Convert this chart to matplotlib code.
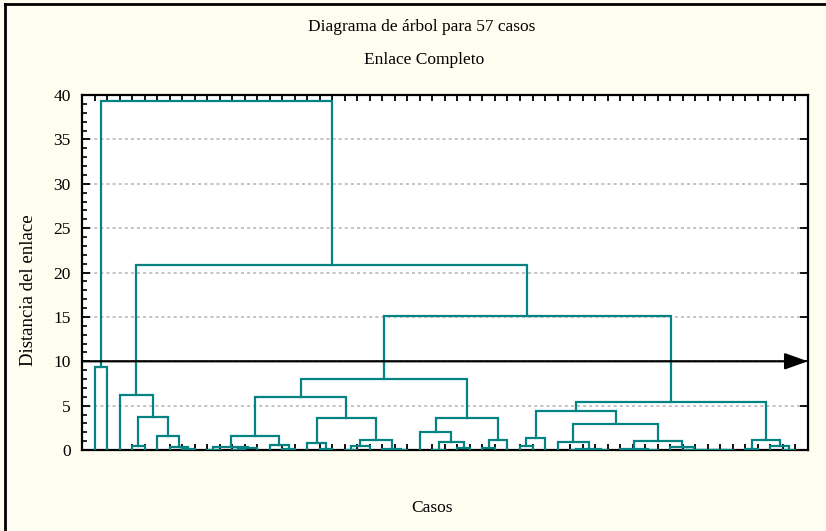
import matplotlib
matplotlib.use("Agg")
import matplotlib.pyplot as plt
from matplotlib.lines import Line2D
from matplotlib.ticker import MultipleLocator

plt.rcParams['font.family'] = ['Liberation Serif', 'DejaVu Serif']

title_1 = "Diagrama de árbol para 57 casos"
title_2 = "Enlace Completo"
y_label = "Distancia del enlace"
x_label = "Casos"
n_cases = 57
cut_height = 10.0

# merges of the tree: leaves are case numbers 1..57 (in drawing order),
# internal nodes are referred to by name
node_names = ["a1", "b1", "b2", "b3", "b4", "b5", "b6",
              "c1", "c2", "c3", "c4", "c5", "c6", "c7", "c8", "c9", "c10",
              "c11", "c12", "c13", "c14", "c15", "c16",
              "d1", "d2", "d3", "d4", "d5", "d6", "d7", "d8",
              "e1", "e2", "e3", "e4", "e5", "e6", "e7", "e8", "e9", "e10",
              "e11", "e12", "e13", "e14", "e15", "e16", "e17",
              "f1", "f2", "f3", "f4", "f5", "g1", "g2", "g3"]
left_child = [1, 8, 7, 6, 4, "b4", 3,
              10, 12, "c2", "c1", 16, 15, "c4", 19, 18, 21,
              "c10", 25, 24, "c11", "c9", "c7",
              28, 30, "d1", 27, 32, "d5", "d4", "c16",
              35, "e1", 39, 41, "e3", 38, 44, "e7", 43, 51,
              50, 49, 48, 47, "e9", "e6", "e2",
              53, 56, 55, "f1", "e17", "d8", "b6", "a1"]
right_child = [2, 9, "b1", "b2", 5, "b3", "b5",
               11, 13, 14, "c3", 17, "c5", "c6", 20, "c8", 22,
               23, 26, "c12", "c13", "c14", "c15",
               29, 31, "d2", "d3", 33, 34, "d6", "d7",
               36, 37, 40, 42, "e4", "e5", 45, 46, "e8", 52,
               "e10", "e11", "e12", "e13", "e14", "e15", "e16",
               54, 57, "f2", "f3", "f4", "f5", "g1", "g2"]
link_height = [9.35, 0.08, 0.35, 1.58, 0.45, 3.7, 6.2,
               0.05, 0.05, 0.19, 0.37, 0.1, 0.56, 1.53, 0.1, 0.82, 0.05,
               0.49, 0.03, 0.1, 1.13, 3.65, 5.97,
               0.05, 0.19, 0.86, 2.06, 0.2, 1.1, 3.64, 8.0,
               0.45, 1.39, 0.03, 0.03, 0.1, 0.94, 0.03, 0.04, 0.06, 0.02,
               0.03, 0.04, 0.05, 0.37, 1.0, 2.9, 4.39,
               0.1, 0.05, 0.48, 1.13, 5.37, 15.1, 20.85, 39.3]

teal = '#058282'

fig = plt.figure(figsize=(8.26, 5.31), dpi=100)
fig.patch.set_facecolor('#fffcf0')
ax = fig.add_axes([0.0993, 0.1525, 0.8787, 0.6685])
ax.set_facecolor('white')

node_x = {}
node_y = {}


def pos(c):
    if isinstance(c, int):
        return float(c), 0.0
    return node_x[c], node_y[c]


for name, l, r, h in zip(node_names, left_child, right_child, link_height):
    xl, yl = pos(l)
    xr, yr = pos(r)
    ax.plot([xl, xl, xr, xr], [yl, h, h, yr], color=teal, lw=1.6,
            solid_joinstyle='miter', zorder=3)
    node_x[name] = (xl + xr) / 2
    node_y[name] = h

ax.set_xlim(0, n_cases + 1)
ax.set_ylim(0, 40)
ax.set_xticks(range(1, n_cases + 1))
ax.set_xticklabels([])
ax.yaxis.set_major_locator(MultipleLocator(5))
ax.yaxis.set_minor_locator(MultipleLocator(1))
ax.tick_params(axis='x', direction='in', top=True, bottom=True, length=4,
               width=1.3, color='black')
ax.tick_params(axis='y', which='major', direction='in', left=True, right=True,
               length=6, width=1.3, labelsize=12.5, pad=8)
ax.tick_params(axis='y', which='minor', direction='in', left=True,
               right=False, length=3.5, width=1.2)
for s in ax.spines.values():
    s.set_linewidth(1.6)
ax.yaxis.grid(True, which='major', color='#b4b4b4', linestyle=(0, (2, 2)),
              lw=1.1, zorder=1)
ax.set_axisbelow(True)

# cut line with arrow
ax.annotate('', xy=(n_cases + 1, cut_height), xytext=(0, cut_height),
            arrowprops=dict(arrowstyle='-|>,head_length=1.4,head_width=0.5',
                            color='black', lw=1.6, shrinkA=0, shrinkB=0),
            zorder=5, annotation_clip=False)

fig.text(0.511, 0.949, title_1, ha='center', va='center', fontsize=12.5)
fig.text(0.514, 0.887, title_2, ha='center', va='center', fontsize=12.5)
fig.text(0.034, 0.454, y_label, ha='center', va='center', rotation=90,
         fontsize=13.5)
fig.text(0.523, 0.043, x_label, ha='center', va='center', fontsize=12.5)

# frame on the top and left of the figure
fig.add_artist(Line2D([0.006, 0.006], [0.0, 0.993], color='black', lw=2,
                      transform=fig.transFigure))
fig.add_artist(Line2D([0.006, 1.0], [0.993, 0.993], color='black', lw=2,
                      transform=fig.transFigure))

fig.savefig('out.png', dpi=100, facecolor=fig.get_facecolor())
